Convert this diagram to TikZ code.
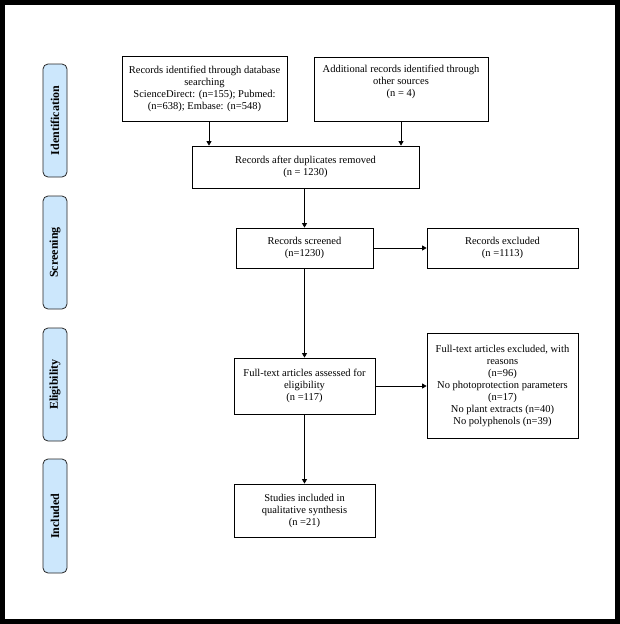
\documentclass[tikz,border=0pt]{standalone}
\usepackage{fontspec}
\setmainfont{Liberation Serif}
\usetikzlibrary{arrows.meta,positioning}
\definecolor{phase}{HTML}{CCE7FC}
\begin{document}
\begin{tikzpicture}[x=1pt,y=-1pt,
  box/.style={draw=black, line width=0.8pt, fill=white, align=center,
    font=\fontsize{10.5}{12}\selectfont, inner sep=0pt},
  phasebox/.style={draw=black!85, line width=0.8pt, fill=phase, rounded corners=5pt,
    minimum height=24pt, inner sep=0pt, rotate=90,
    font=\fontsize{12}{14}\selectfont\bfseries},
  arr/.style={line width=0.8pt, -{Triangle[length=4.5pt,width=5pt]}}]
\useasboundingbox (0,0) rectangle (620,624);
\fill[white] (0,0) rectangle (620,624);
\draw[line width=5pt] (2.5,2.5) rectangle (617.5,621.5);

% phase labels
\node[phasebox, minimum width=113pt] (p1) at (55,120.5) {Identification};
\node[phasebox, minimum width=113pt] (p2) at (55,252.5) {Screening};
\node[phasebox, minimum width=113pt] (p3) at (55,384.5) {Eligibility};
\node[phasebox, minimum width=114pt] (p4) at (55,516) {Included};

% boxes
\node[box, minimum width=165pt, minimum height=65pt] (A) at (204.5,88.5)
  {Records identified through database\\ searching\\ ScienceDirect: (n=155); Pubmed:\\ (n=638); Embase: (n=548)};
\node[box, minimum width=174pt, minimum height=64pt] (B) at (401,89)
  {Additional records identified through\\ other sources\\ (n = 4)\\ \strut};
\node[box, minimum width=227pt, minimum height=42pt] (C) at (305.5,167)
  {Records after duplicates removed\\ (n = 1230)};
\node[box, minimum width=137pt, minimum height=40pt] (D) at (304.5,248)
  {Records screened\\ (n=1230)};
\node[box, minimum width=151pt, minimum height=40pt] (E) at (502.5,248)
  {Records excluded\\ (n =1113)};
\node[box, minimum width=141pt, minimum height=56pt] (F) at (304.5,386)
  {Full-text articles assessed for\\ eligibility\\ (n =117)};
\node[box, minimum width=151pt, minimum height=105pt] (G) at (502.5,385.5)
  {Full-text articles excluded, with\\ reasons\\ (n=96)\\ No photoprotection parameters\\ (n=17)\\ No plant extracts (n=40)\\ No polyphenols (n=39)};
\node[box, minimum width=141pt, minimum height=53pt] (H) at (304.5,510.5)
  {Studies included in\\ qualitative synthesis\\ (n =21)};

% connectors
\coordinate (a1) at ([xshift=4.5pt]A.south);
\draw[arr] (a1) -- (a1 |- C.north);
\draw[arr] (B.south) -- (B.south |- C.north);
\draw[arr] (C.south -| D.north) -- (D.north);
\draw[arr] (D.east) -- (E.west);
\draw[arr] (D.south) -- (F.north);
\draw[arr] (F.east) -- (F.east -| G.west);
\draw[arr] (F.south) -- (H.north);
\end{tikzpicture}
\end{document}
